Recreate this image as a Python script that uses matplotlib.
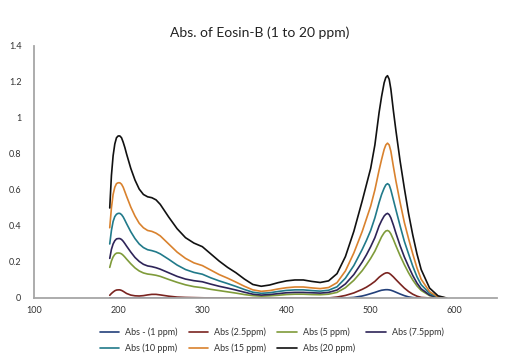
import matplotlib
matplotlib.use("Agg")
import matplotlib.pyplot as plt

wavelength = [190, 192, 194, 196, 198, 200, 202, 204, 206, 208, 210,
              215, 220, 225, 230, 235, 240, 245, 250,
              260, 270, 280, 290, 300, 310, 320, 330, 340, 350,
              360, 370, 380, 390, 400, 410, 420, 430, 440, 450,
              460, 470, 480, 490,
              495, 500, 505, 510,
              513, 516, 518, 520, 522, 524, 527, 530,
              535, 540, 545, 550, 555, 560,
              570, 580, 590]

abs_1 = [0, 0, 0, 0, 0, 0, 0, 0, 0, 0, 0,
         0, 0, 0, 0, 0, 0, 0, 0,
         0, 0, 0, 0, 0, 0, 0, 0, 0, 0,
         0, 0, 0, 0, 0, 0, 0, 0, 0, 0,
         0, 0, 0.003, 0.011,
         0.017, 0.024, 0.031, 0.039,
         0.043, 0.045, 0.046, 0.046, 0.045, 0.043, 0.038, 0.032,
         0.022, 0.013, 0.006, 0.002, 0, 0,
         0, 0, 0]
abs_2_5 = [0.015, 0.025, 0.033, 0.040, 0.044, 0.045, 0.045, 0.042, 0.037, 0.031, 0.025,
           0.016, 0.012, 0.011, 0.013, 0.017, 0.020, 0.020, 0.017,
           0.010, 0.005, 0.003, 0.002, 0.001, 0, 0, 0, 0, 0,
           0, 0, 0, 0, 0, 0, 0, 0, 0, 0,
           0.005, 0.014, 0.028, 0.048,
           0.060, 0.075, 0.092, 0.115,
           0.126, 0.135, 0.139, 0.140, 0.137, 0.130, 0.117, 0.102,
           0.078, 0.055, 0.036, 0.021, 0.010, 0.003,
           0, 0, 0]
abs_5 = [0.17, 0.205, 0.228, 0.242, 0.249, 0.25, 0.249, 0.245, 0.237, 0.227, 0.216,
         0.19, 0.167, 0.15, 0.139, 0.133, 0.13, 0.126, 0.12,
         0.103, 0.087, 0.073, 0.063, 0.057, 0.048, 0.041, 0.034, 0.027, 0.019,
         0.013, 0.01, 0.012, 0.015, 0.019, 0.021, 0.021, 0.019, 0.018, 0.021,
         0.031, 0.057, 0.098, 0.152,
         0.185, 0.22, 0.26, 0.31,
         0.34, 0.362, 0.372, 0.375, 0.37, 0.356, 0.325, 0.29,
         0.235, 0.185, 0.14, 0.10, 0.067, 0.042,
         0.013, 0.002, 0.0]
abs_7_5 = [0.22, 0.27, 0.30, 0.318, 0.328, 0.33, 0.33, 0.325, 0.315, 0.302, 0.288,
           0.255, 0.225, 0.203, 0.187, 0.178, 0.174, 0.168, 0.16,
           0.14, 0.12, 0.105, 0.096, 0.09, 0.077, 0.065, 0.055, 0.044, 0.032,
           0.021, 0.016, 0.019, 0.024, 0.029, 0.031, 0.031, 0.029, 0.027, 0.031,
           0.044, 0.078, 0.13, 0.20,
           0.24, 0.285, 0.335, 0.40,
           0.43, 0.455, 0.465, 0.47, 0.463, 0.445, 0.405, 0.36,
           0.29, 0.228, 0.175, 0.125, 0.083, 0.051,
           0.016, 0.003, 0.0]
abs_10 = [0.30, 0.375, 0.425, 0.452, 0.465, 0.47, 0.47, 0.463, 0.45, 0.432, 0.413,
          0.368, 0.33, 0.30, 0.28, 0.268, 0.263, 0.256, 0.245,
          0.215, 0.183, 0.158, 0.142, 0.132, 0.112, 0.095, 0.08, 0.064, 0.047,
          0.032, 0.026, 0.029, 0.036, 0.042, 0.045, 0.045, 0.041, 0.038, 0.043,
          0.062, 0.11, 0.18, 0.27,
          0.32, 0.375, 0.445, 0.53,
          0.575, 0.61, 0.628, 0.635, 0.628, 0.60, 0.545, 0.49,
          0.40, 0.315, 0.245, 0.177, 0.118, 0.074,
          0.025, 0.004, 0.0]
abs_15 = [0.39, 0.50, 0.575, 0.615, 0.635, 0.64, 0.64, 0.632, 0.615, 0.59, 0.565,
          0.505, 0.455, 0.415, 0.39, 0.375, 0.37, 0.36, 0.345,
          0.30, 0.255, 0.22, 0.195, 0.18, 0.155, 0.13, 0.11, 0.088, 0.065,
          0.045, 0.037, 0.041, 0.05, 0.057, 0.061, 0.061, 0.056, 0.052, 0.058,
          0.085, 0.15, 0.25, 0.37,
          0.44, 0.51, 0.60, 0.71,
          0.77, 0.825, 0.85, 0.86, 0.85, 0.815, 0.73, 0.65,
          0.53, 0.42, 0.33, 0.245, 0.167, 0.104,
          0.035, 0.006, 0.0]
abs_20 = [0.50, 0.68, 0.79, 0.855, 0.89, 0.90, 0.90, 0.89, 0.865, 0.835, 0.80,
          0.72, 0.655, 0.605, 0.575, 0.562, 0.557, 0.545, 0.52,
          0.45, 0.385, 0.335, 0.305, 0.285, 0.245, 0.205, 0.17, 0.14, 0.105,
          0.075, 0.065, 0.072, 0.085, 0.095, 0.10, 0.10, 0.092, 0.086, 0.095,
          0.135, 0.23, 0.37, 0.54,
          0.63, 0.72, 0.85, 1.03,
          1.12, 1.195, 1.225, 1.235, 1.215, 1.16, 1.04, 0.93,
          0.76, 0.61, 0.47, 0.35, 0.245, 0.158,
          0.055, 0.012, 0.0]

labels = ["Abs - (1 ppm)", "Abs (2.5ppm)", "Abs (5 ppm)", "Abs (7.5ppm)",
          "Abs (10 ppm)", "Abs (15 ppm)", "Abs (20 ppm)"]
series = [abs_1, abs_2_5, abs_5, abs_7_5, abs_10, abs_15, abs_20]
colors = ["#23407A", "#7A2420", "#7F9B3A", "#2E2458", "#217A8A", "#D9822E", "#111111"]

x_ticks = [100, 200, 300, 400, 500, 600]
y_ticks = [0, 0.2, 0.4, 0.6, 0.8, 1, 1.2, 1.4]
y_tick_labels = ["0", "0.2", "0.4", "0.6", "0.8", "1", "1.2", "1.4"]

plt.rcParams['font.family'] = ['Lato', 'DejaVu Sans']

fig = plt.figure(figsize=(5.05, 3.59), dpi=100)
ax = fig.add_axes([0.0673, 0.170, 0.9167, 0.702])

handles = []
for ys, lab, c in zip(series, labels, colors):
    assert len(ys) == len(wavelength), lab
    h, = ax.plot(wavelength, ys, color=c, lw=1.2, label=lab,
                 solid_joinstyle='round', solid_capstyle='round')
    handles.append(h)

ax.set_xlim(100, 650)
ax.set_ylim(0, 1.4)
ax.set_xticks(x_ticks)
ax.set_yticks(y_ticks)
ax.set_yticklabels(y_tick_labels)
ax.tick_params(axis='both', length=0, labelsize=6.5, colors='#333333')
ax.tick_params(axis='y', pad=9)
ax.tick_params(axis='x', pad=6)
for s in ['top', 'right']:
    ax.spines[s].set_visible(False)
for s in ['left', 'bottom']:
    ax.spines[s].set_color('#A6A6A6')
    ax.spines[s].set_linewidth(1.3)

fig.suptitle("Abs. of Eosin-B (1 to 20 ppm)", x=0.515, y=0.925, fontsize=10, color='#222222')

# matplotlib fills legend columns first; reorder so rows read left to right
order = [0, 4, 1, 5, 2, 6, 3]
leg = fig.legend([handles[i] for i in order], [labels[i] for i in order],
                 loc='upper left', bbox_to_anchor=(0.19, 0.098), ncol=4, frameon=False,
                 fontsize=6.5, handlelength=2.2, handletextpad=0.65, columnspacing=1.2,
                 labelspacing=0.75, borderaxespad=0)
for t in leg.get_texts():
    t.set_color('#333333')

fig.savefig("out.png", dpi=100)
